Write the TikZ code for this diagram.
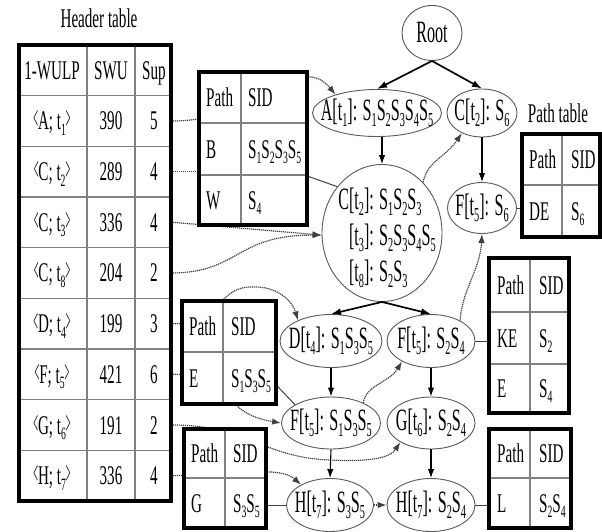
\documentclass[tikz,border=0pt]{standalone}
\usepackage{fontspec}
\setmainfont{Liberation Serif}[FakeStretch=0.56]
\newfontfamily\nodefamily{Liberation Serif}[FakeStretch=0.52]
\usepackage{graphicx}
\usetikzlibrary{arrows.meta,shapes.geometric}
\pgfdeclarelayer{bg}
\pgfsetlayers{bg,main}
\newcommand\sbs[1]{\raisebox{-0.2em}{\scalebox{0.64}{#1}}}
\newcommand\langbr{\scalebox{0.55}[1.25]{<}}
\newcommand\rangbr{\scalebox{0.55}[1.25]{>}}
\newcommand\tabfont{\fontsize{27}{30}\selectfont}
\newcommand\treefont{\nodefamily\fontsize{31}{36}\selectfont}
\newcommand\zb[1]{\makebox[0pt]{#1}}
\tikzset{
  tnode/.style={ellipse, draw=black!65, line width=0.9pt, fill=white, inner sep=0pt, font=\treefont},
  tablebox/.style={rectangle, fill=white, inner sep=0pt},
  tout/.style={draw=black, line width=4pt},
  tin/.style={draw=black!50, line width=1.2pt},
  ttxt/.style={inner sep=0pt, font=\tabfont, anchor=base west},
  htxt/.style={inner sep=0pt, font=\tabfont, anchor=base},
  link/.style={draw=black!75, line width=1.2pt, dash pattern=on 1.2pt off 0.8pt, -{Latex[length=9pt,width=6.5pt]}},
  tarrow/.style={draw=black, line width=1.7pt, -{Latex[length=10pt,width=7pt]}},
  varrow/.style={draw=black, line width=1.1pt, -{Latex[length=9pt,width=6.5pt]}},
  att/.style={draw=black!75, line width=1pt},
}
\begin{document}
\begin{tikzpicture}[x=1pt,y=-1pt]
\useasboundingbox (0,0) rectangle (602,532);

% ---------- tree nodes ----------
\node[tnode, minimum width=60pt, minimum height=55pt] (Root) at (432,33) {\zb{Root}};
\node[tnode, minimum width=129pt, minimum height=47pt] (A) at (377,113) {\zb{A[t\sbs1]: S\sbs1S\sbs2S\sbs3S\sbs4S\sbs5}};
\node[tnode, minimum width=70pt, minimum height=48pt] (CS6) at (482,113) {\zb{C[t\sbs2]: S\sbs6}};
\node[tnode, minimum width=69pt, minimum height=51pt] (FS6) at (482,208) {\zb{F[t\sbs5]: S\sbs6}};
\node[tnode, minimum width=120pt, minimum height=137pt] (cC) at (382,233) {};
\node[font=\treefont, align=left, inner sep=0pt] (cCtext) at (387,238)
  {C[t\sbs2]: S\sbs1S\sbs2S\sbs3\\\phantom{C}[t\sbs3]: S\sbs2S\sbs3S\sbs4S\sbs5\\\phantom{C}[t\sbs8]: S\sbs2S\sbs3};
\node[tnode, minimum width=102pt, minimum height=53pt] (D) at (331,341) {\zb{D[t\sbs4]: S\sbs1S\sbs3S\sbs5}};
\node[tnode, minimum width=88pt, minimum height=53pt] (F2) at (431,341) {\zb{F[t\sbs5]: S\sbs2S\sbs4}};
\node[tnode, minimum width=99pt, minimum height=52pt] (F1) at (331,423) {\zb{F[t\sbs5]: S\sbs1S\sbs3S\sbs5}};
\node[tnode, minimum width=88pt, minimum height=52pt] (G) at (431,423) {\zb{G[t\sbs6]: S\sbs2S\sbs4}};
\node[tnode, minimum width=87pt, minimum height=53pt] (H1) at (330,505) {\zb{H[t\sbs7]: S\sbs3S\sbs5}};
\node[tnode, minimum width=88pt, minimum height=53pt] (H2) at (431,505) {\zb{H[t\sbs7]: S\sbs2S\sbs4}};

% ---------- header table ----------
\node[font=\tabfont, inner sep=0pt] (htitle) at (99,18) {Header table};
\node[tablebox, minimum width=152pt, minimum height=456pt] (htab) at (95,273) {};
\foreach \k in {1,...,8} \draw[tin] (19,{45+50.667*\k}) -- (171,{45+50.667*\k});
\draw[tin] (87,45) -- (87,501) (135,45) -- (135,501);
\draw[tout] (htab.north west) rectangle (htab.south east);
\node[htxt] (hh1) at (52,79.33) {1-WULP};
\node[htxt] (hh2) at (111,79.33) {SWU};
\node[htxt] (hh3) at (154,79.33) {Sup};
\foreach \lab/\sw/\su [count=\i] in {
  {\langbr A; t\sbs1\rangbr}/390/5,
  {\langbr C; t\sbs2\rangbr}/289/4,
  {\langbr C; t\sbs3\rangbr}/336/4,
  {\langbr C; t\sbs8\rangbr}/204/2,
  {\langbr D; t\sbs4\rangbr}/199/3,
  {\langbr F; t\sbs5\rangbr}/421/6,
  {\langbr G; t\sbs6\rangbr}/191/2,
  {\langbr H; t\sbs7\rangbr}/336/4} {
  \node[htxt] (hl\i) at (52,{79.33+50.667*\i}) {\lab};
  \node[htxt] (hs\i) at (111,{79.33+50.667*\i}) {\sw};
  \node[htxt] (hu\i) at (154,{79.33+50.667*\i}) {\su};
}
\coordinate (hA) at (173,121);
\coordinate (hC2) at (173,171.7);
\coordinate (hC3) at (173,222.3);
\coordinate (hC8) at (173,273);
\coordinate (hD) at (173,323.7);
\coordinate (hF) at (173,374.3);
\coordinate (hG) at (173,425);
\coordinate (hH) at (173,475.7);

% ---------- small tables ----------
% B / W
\node[tablebox, minimum width=108pt, minimum height=153pt] (tbBW) at (253,148.5) {};
\draw[tin] (199,123) -- (307,123) (199,175) -- (307,175) (241,72) -- (241,225);
\draw[tout] (tbBW.north west) rectangle (tbBW.south east);
\node[ttxt] (bw1) at (206,106.5) {Path};
\node[ttxt] (bw2) at (248,106.5) {SID};
\node[ttxt] (bw3) at (206,158) {B};
\node[ttxt] (bw4) at (248,158) {S\sbs1S\sbs2S\sbs3S\sbs5};
\node[ttxt] (bw5) at (206,209) {W};
\node[ttxt] (bw6) at (248,209) {S\sbs4};
% E
\node[tablebox, minimum width=94pt, minimum height=103pt] (tbE) at (229,352.5) {};
\draw[tin] (182,352) -- (276,352) (223,301) -- (223,404);
\draw[tout] (tbE.north west) rectangle (tbE.south east);
\node[ttxt] (e1) at (189,335.5) {Path};
\node[ttxt] (e2) at (231,335.5) {SID};
\node[ttxt] (e3) at (189,387) {E};
\node[ttxt] (e4) at (231,387) {S\sbs1S\sbs3S\sbs5};
% G
\node[tablebox, minimum width=82pt, minimum height=99pt] (tbG) at (225,478.5) {};
\draw[tin] (184,478) -- (266,478) (225,429) -- (225,528);
\draw[tout] (tbG.north west) rectangle (tbG.south east);
\node[ttxt] (g1) at (191,462.5) {Path};
\node[ttxt] (g2) at (233,462.5) {SID};
\node[ttxt] (g3) at (191,512) {G};
\node[ttxt] (g4) at (233,512) {S\sbs3S\sbs5};
% KE / E
\node[tablebox, minimum width=80pt, minimum height=155pt] (tbKE) at (529,335.5) {};
\draw[tin] (489,312) -- (569,312) (489,364) -- (569,364) (530,258) -- (530,413);
\draw[tout] (tbKE.north west) rectangle (tbKE.south east);
\node[ttxt] (k1) at (497,294) {Path};
\node[ttxt] (k2) at (539,294) {SID};
\node[ttxt] (k3) at (497,347) {KE};
\node[ttxt] (k4) at (539,347) {S\sbs2};
\node[ttxt] (k5) at (497,397.5) {E};
\node[ttxt] (k6) at (539,397.5) {S\sbs4};
% L
\node[tablebox, minimum width=82pt, minimum height=99pt] (tbL) at (530,478.5) {};
\draw[tin] (489,478) -- (571,478) (530,429) -- (530,528);
\draw[tout] (tbL.north west) rectangle (tbL.south east);
\node[ttxt] (l1) at (497,462.5) {Path};
\node[ttxt] (l2) at (539,462.5) {SID};
\node[ttxt] (l3) at (497,512) {L};
\node[ttxt] (l4) at (539,512) {S\sbs2S\sbs4};
% DE (path table)
\node[font=\tabfont, inner sep=0pt] (ptitle) at (558,113) {Path table};
\node[tablebox, minimum width=78pt, minimum height=103pt] (tbDE) at (561,185.5) {};
\draw[tin] (522,185) -- (600,185) (562,134) -- (562,237);
\draw[tout] (tbDE.north west) rectangle (tbDE.south east);
\node[ttxt] (d1) at (529,168.5) {Path};
\node[ttxt] (d2) at (571,168.5) {SID};
\node[ttxt] (d3) at (529,220) {DE};
\node[ttxt] (d4) at (571,220) {S\sbs6};

% ---------- links (behind) ----------
\begin{pgfonlayer}{bg}
\draw[link] (hA) .. controls (260,121) and (298,50) .. (A.156);
\draw[link, -] (hC2) -- (hC2 -| tbBW.center);
\draw[link] (hC3) -- (cC.182);
\draw[link] (hC8) .. controls (240,272) and (235,235) .. (cC.182);
\draw[link] (cC.51) .. controls (428,160) and (445,158) .. (CS6.225);
\draw[link] (hD) .. controls (225,324) and (215,285) .. (255,287) .. controls (280,287) and (293,303) .. (D.148);
\draw[link] (hF) .. controls (240,374) and (215,412) .. (F1.west);
\draw[link] (F1.32) .. controls (366,385) and (390,382) .. (F2.215);
\draw[link] (F2.35) .. controls (462,290) and (480,270) .. (FS6.south);
\draw[link] (hG) .. controls (245,425) and (265,458) .. (330,460) .. controls (370,462) and (390,458) .. (G.212);
\draw[link] (hH) .. controls (240,474) and (280,466) .. (H1.145);
\draw[link] (H1.east) -- (H2.west);
% table attachments
\draw[att] (tbBW.east |- 0,176) -- (cC.134);
\draw[att] (tbE.east |- 0,385) -- (F1.153);
\draw[att] (tbG.east |- H1) -- (H1.west);
\draw[att] (F2.east) -- (tbKE.west |- F2);
\draw[att] (H2.east) -- (tbL.west |- H2);
\draw[att] (FS6.east) -- (tbDE.west |- FS6);
\end{pgfonlayer}

% ---------- tree edges ----------
\draw[tarrow] (Root.south) -- (A.north);
\draw[tarrow] (Root.south) -- (CS6.north);
\draw[varrow] (A.south -| cC.north) -- (cC.north);
\draw[varrow] (CS6.south) -- (FS6.north);
\draw[tarrow] (cC.south) -- (D.north);
\draw[tarrow] (cC.south) -- (F2.north);
\draw[varrow] (D.south) -- (F1.north);
\draw[varrow] (F2.south) -- (G.north);
\draw[varrow] (F1.south) -- (H1.north);
\draw[varrow] (G.south) -- (H2.north);
\end{tikzpicture}
\end{document}
